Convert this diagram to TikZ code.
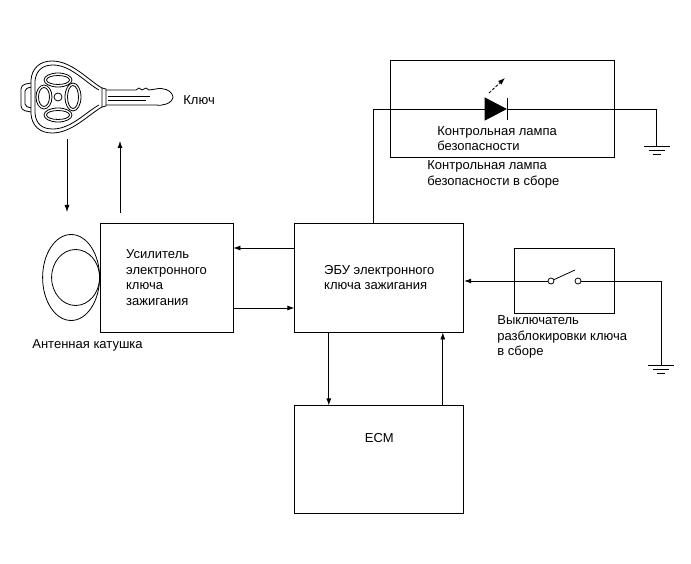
\documentclass[tikz,border=0pt]{standalone}
\usepackage{fontspec}
\setmainfont{Liberation Sans}
\usetikzlibrary{arrows.meta,positioning}

\begin{document}
\begin{tikzpicture}[x=1pt, y=-1pt, line width=0.8pt, font=\fontsize{13}{15.5}\selectfont,
        box/.style = {draw, align=left, minimum height=109pt},
        lbl/.style = {align=left, anchor=west, inner sep=0pt},
        arr/.style = {-{Latex[length=7pt,width=5pt]}},
        contact/.style = {draw, circle, inner sep=0pt, minimum size=6pt}]
        \useasboundingbox (0,0) rectangle (691,564);
        % blocks
        \node[box, minimum width=133pt] (amp) at (166.5,277.5) {Усилитель\\электронного\\ключа\\зажигания};
        \node[box, minimum width=169pt] (ecu) [right=61pt of amp] {ЭБУ электронного\\ключа зажигания};
        \node[box, minimum width=169pt, minimum height=108pt] (ecm) [below=73pt of ecu] {};
        \node[inner sep=0pt] (ecmlbl) at ([yshift=22pt]ecm.center) {ECM};
        \node[draw, minimum width=224pt, minimum height=97pt] (lamp) at (502,108.5) {};
        \node[draw, minimum width=100pt, minimum height=65pt] (sw) at (564,280.5) {};
        % labels
        \node[lbl] (keylbl) at (183,100) {Ключ};
        \node[lbl] (coillbl) at (32,345) {Антенная катушка};
        \node[lbl] (lampin) at (437,138.5) {Контрольная лампа\\безопасности};
        \node[lbl] (lampout) at (427,174.5) {Контрольная лампа\\безопасности в сборе};
        \node[lbl] (swlbl) at (497,337) {Выключатель\\разблокировки ключа\\в сборе};
        % points
        \coordinate (ledA) at (485,109);
        \coordinate (ledK) at (507,109);
        \coordinate (gl) at (656.5,146);
        \coordinate (gs) at (661,365);
        \coordinate (lev) at (575,270);
        \coordinate (k1) at (67,139);
        \coordinate (k2) at (67,212);
        \coordinate (k3) at (120,213);
        \coordinate (k4) at (120,141);
        \node[contact] (c1) at (551,281) {};
        \node[contact] (c2) at (578,281) {};
        % signals
        \draw[arr] ([yshift=29.5pt]ecu.west) -- ([yshift=29.5pt]amp.east);
        \draw[arr] ([yshift=-30.5pt]amp.east) -- ([yshift=-30.5pt]ecu.west);
        \draw[arr] ([xshift=-50.5pt]ecu.south) -- ([xshift=-50.5pt]ecm.north);
        \draw[arr] ([xshift=63.5pt]ecm.north) -- ([xshift=63.5pt]ecu.south);
        \draw[arr] (k1) -- (k2);
        \draw[arr] (k3) -- (k4);
        % lamp circuit
        \draw ([xshift=-5.5pt]ecu.north) |- (ledA);
        \draw (ledK) -| (gl);
        \filldraw (485,98) -- (506,109) -- (485,120) -- cycle;
        \draw (507,98) -- (507,120);
        \draw[arr, dash pattern=on 3pt off 1.5pt] (489,93) -- (505,78);
        % switch circuit
        \draw (c1) -- (lev);
        \draw[arr] (c1) -- (c1 -| ecu.east);
        \draw (c2) -| (gs);
        \foreach \g in {gl,gs} {
            \draw ([xshift=-13pt]\g) -- ([xshift=13pt]\g);
            \draw ([xshift=-8pt,yshift=-4pt]\g) -- ([xshift=8pt,yshift=-4pt]\g);
            \draw ([xshift=-4pt,yshift=-8pt]\g) -- ([xshift=4pt,yshift=-8pt]\g);
        }
        % antenna coil
        \draw (amp.west) ++(-28.5,0) ellipse [x radius=28.5, y radius=43];
        \draw (amp.west) ++(-24,0) ellipse [x radius=24, y radius=28];
        % key
        \draw (102,88) .. controls (88,80) and (72,61) .. (52,61) .. controls (40,61) and (32,68) .. (31,80)
            -- (31,114) .. controls (32,126) and (40,133) .. (52,133) .. controls (72,133) and (88,115) .. (102,107) -- cycle;
        \draw (99,90) .. controls (86,83) and (71,65) .. (53,65) .. controls (42,65) and (36,71) .. (35,81)
            -- (35,113) .. controls (36,124) and (42,129) .. (53,129) .. controls (71,129) and (86,112) .. (99,105);
        \draw[rounded corners=4pt] (31,83) -- (21,85) -- (21,110) -- (31,112);
        \draw[rounded corners=2pt] (31,87) -- (25,89) -- (25,106) -- (31,108);
        \draw (102,88) -- (106,89) -- (106,106) -- (102,107);
        \draw (106,90) -- (136,90) -- (139,88) -- (142,90) -- (146,88) -- (149,90) -- (156,89)
            .. controls (162,87) and (172,90) .. (173,97) .. controls (172,104) and (162,106) .. (156,105) -- (106,105);
        \draw (108,96) -- (150,96);
        \draw (108,100) -- (146,100);
        \foreach \px/\py/\rx/\ry in {58/80/14/7, 73/97/8/14, 58/115/14/7, 44/97/8/12} {
            \draw (\px,\py) ellipse [x radius=\rx, y radius=\ry];
            \draw (\px,\py) ellipse [x radius=\rx-2.5, y radius=\ry-2.5];
        }
        \draw (58,97) circle [radius=4];
    \end{tikzpicture}
\end{document}
